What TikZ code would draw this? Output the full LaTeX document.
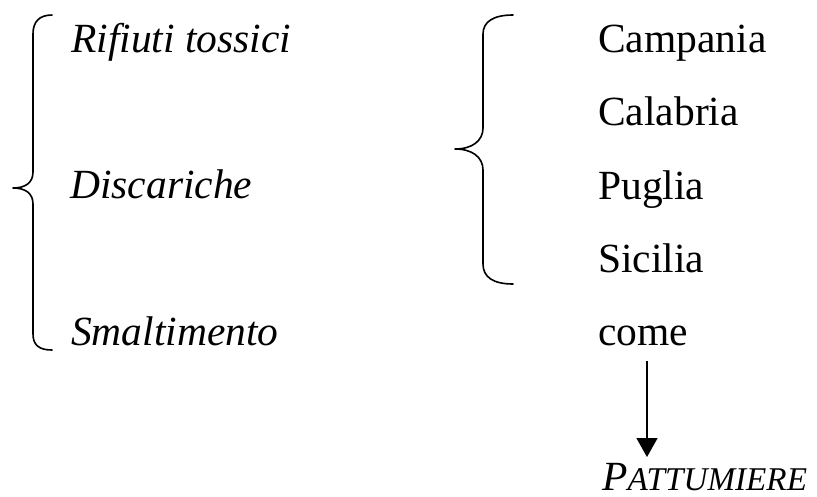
\documentclass[tikz,border=0pt]{standalone}
\usepackage{fontspec}
\setmainfont{Liberation Serif}
\usetikzlibrary{arrows.meta}
\tikzset{
  txt/.style={anchor=base west, inner sep=0pt, font=\fontsize{41.5}{48}\selectfont},
  itxt/.style={txt, font=\fontsize{41.5}{48}\selectfont\itshape},
  bracepath/.style={line width=1.6pt, line cap=round, line join=round},
  arr/.style={line width=1.6pt, -{Triangle[width=21pt,length=19pt]}}
}
\begin{document}
\begin{tikzpicture}[x=1pt,y=-1pt]
\useasboundingbox (0,0) rectangle (817,496);
% left column
\node[itxt] (rif) at (71,52) {Rifiuti tossici};
\node[itxt] (dis) at (70,198) {Discariche};
\node[itxt] (sma) at (71,345) {Smaltimento};
% right column
\node[txt] (cam) at (598,52) {Campania};
\node[txt] (cal) at (598,125) {Calabria};
\node[txt] (pug) at (598,199) {Puglia};
\node[txt] (sic) at (598,272) {Sicilia};
\node[txt] (come) at (598,345) {come};
\node[itxt] (pat) at (602,490) {P{\fontsize{33.2}{40}\selectfont ATTUMIERE}};
% left brace
\draw[bracepath] (52,15) .. controls (39,15) and (33,22) .. (33,34)
  -- (33,172) .. controls (33,183) and (25,188) .. (13,188)
  .. controls (25,188) and (33,193) .. (33,204)
  -- (33,334) .. controls (33,345) and (39,350) .. (52,350);
% right brace
\draw[bracepath] (513,15) .. controls (493,15) and (483,22) .. (483,34)
  -- (483,128) .. controls (483,141) and (472,149) .. (455,149)
  .. controls (472,149) and (483,157) .. (483,170)
  -- (483,264) .. controls (483,277) and (493,284) .. (513,284);
% arrow
\coordinate (a1) at (647,361);
\coordinate (a2) at (647,457);
\draw[arr] (a1) -- (a2);
\end{tikzpicture}
\end{document}
